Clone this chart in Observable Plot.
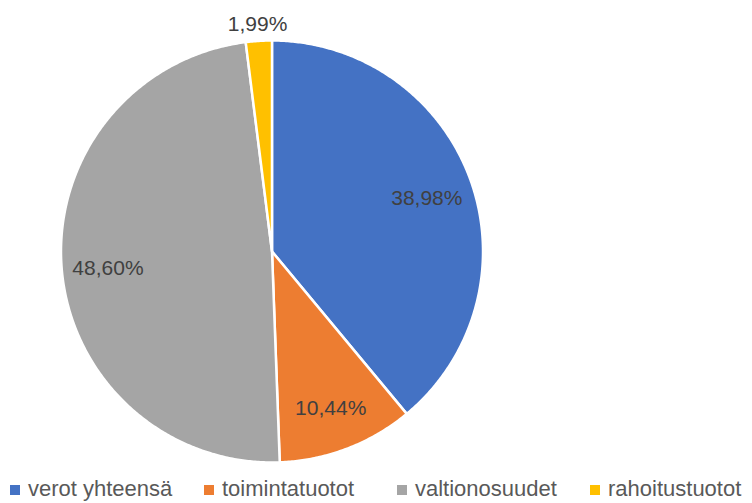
<!DOCTYPE html>
<html>
<head>
<meta charset="utf-8">
<script src="https://cdn.jsdelivr.net/npm/d3@7"></script>
<script src="https://cdn.jsdelivr.net/npm/@observablehq/plot@0.6"></script>
<style>
  html, body { margin: 0; padding: 0; background: #fff; }
  #wrap { position: relative; width: 752px; height: 503px; font-family: "Liberation Sans", Arial, sans-serif; }
  #legend { position: absolute; left: 0; top: 477px; width: 752px; height: 24px; }
  .item { position: absolute; top: 0; height: 24px; display: flex; align-items: center; color: #595959; font-size: 22px; white-space: nowrap; }
  .sw { width: 10px; height: 10px; margin-right: 8px; margin-top: 1px; }
</style>
</head>
<body>
<div id="wrap"></div>
<script>
const categories = ["verot yhteensä", "toimintatuotot", "valtionosuudet", "rahoitustuotot"];
const shares = [38.98, 10.44, 48.60, 1.99];
const labels = ["38,98%", "10,44%", "48,60%", "1,99%"];
const colors = ["#4472C4", "#ED7D31", "#A5A5A5", "#FFC000"];

const data = categories.map((c, i) => ({category: c, share: shares[i], label: labels[i], color: colors[i]}));
const arcs = d3.pie().value(d => d.share).sort(null)(data);

// slice polygons in unit coordinates (angle 0 = 12 o'clock, clockwise)
const pts = [];
arcs.forEach(a => {
  pts.push({category: a.data.category, color: a.data.color, x: 0, y: 0});
  const n = Math.max(4, Math.ceil((a.endAngle - a.startAngle) * 120));
  for (let k = 0; k <= n; k++) {
    const t = a.startAngle + (a.endAngle - a.startAngle) * k / n;
    pts.push({category: a.data.category, color: a.data.color, x: Math.sin(t), y: Math.cos(t)});
  }
});
const labelPts = arcs.map(a => {
  const m = (a.startAngle + a.endAngle) / 2;
  const r = a.data.share < 5 ? 1.095 : 0.78;
  return {label: a.data.label, x: r * Math.sin(m), y: r * Math.cos(m)};
});

const chart = Plot.plot({
  width: 752,
  height: 472,
  marginLeft: 60.5,
  marginRight: 269.5,
  marginTop: 40,
  marginBottom: 10,
  x: {domain: [-1, 1], axis: null},
  y: {domain: [-1, 1], axis: null},
  style: {fontFamily: "'Liberation Sans', Arial, sans-serif", background: "#fff", overflow: "visible"},
  marks: [
    Plot.line(pts, {x: "x", y: "y", z: "category", fill: "color", stroke: "#fff", strokeWidth: 2.5, curve: "linear-closed"}),
    Plot.text(labelPts, {x: "x", y: "y", text: "label", fill: "#404040", fontSize: 21, dy: 3})
  ]
});
const wrap = document.getElementById("wrap");
wrap.appendChild(chart);

const legend = document.createElement("div");
legend.id = "legend";
const lefts = [10, 204, 397, 590];
categories.forEach((c, i) => {
  const it = document.createElement("div");
  it.className = "item";
  it.style.left = lefts[i] + "px";
  it.innerHTML = `<span class="sw" style="background:${colors[i]}"></span><span>${c}</span>`;
  legend.appendChild(it);
});
wrap.appendChild(legend);
</script>
</body>
</html>
